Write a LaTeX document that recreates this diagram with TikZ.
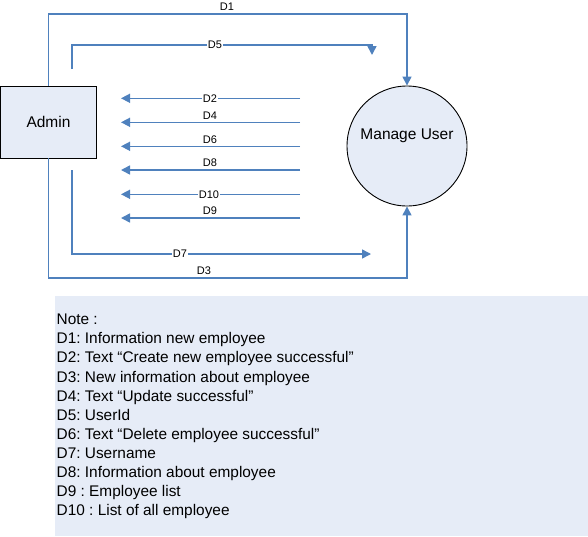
\documentclass[tikz,border=0pt]{standalone}
\usepackage{fontspec}
\setmainfont{Liberation Sans}
\usetikzlibrary{arrows.meta}
\definecolor{flow}{HTML}{4F81BD}
\definecolor{boxfill}{HTML}{E6ECF7}
\frenchspacing
\tikzset{
  flowline/.style={draw=flow, line width=1.5pt, -{Triangle[length=9pt,width=9pt]}},
  lbl/.style={fill=white, inner sep=1pt, font=\fontsize{11}{13}\selectfont},
  entity/.style={draw=black, fill=boxfill, line width=0.9pt, minimum width=96pt, minimum height=72pt, font=\fontsize{15.5}{18}\selectfont},
  process/.style={circle, draw=black, fill=boxfill, line width=0.9pt, minimum size=120pt, inner sep=0pt},
  proctext/.style={inner sep=0pt, font=\fontsize{15.5}{18}\selectfont},
  noteline/.style={anchor=base west, inner sep=0pt, font=\fontsize{15.4}{19}\selectfont}
}
\begin{document}
\begin{tikzpicture}[x=1pt,y=-1pt]
\useasboundingbox (0,0) rectangle (588,536);
% note box
\fill[boxfill] (55,296) rectangle (588,536);
% entities
\node[entity] (admin) at (48.5,122) {Admin};
\node[process] (mu) at (407,146) {};
\node[proctext] (mut) at (407,136) {Manage User};
% D1
\draw[flowline] (admin.north) -- (admin.north |- 0,14) -- (mu.north |- 0,14) -- (mu.north);
\node[lbl] (l1) at (227,7) {D1};
% D3
\draw[flowline] (admin.south) -- (admin.south |- 0,278) -- (mu.south |- 0,278) -- (mu.south);
\node[lbl] (l3) at (204,271) {D3};
% D5
\coordinate (d5s) at (72,69);
\coordinate (d5e) at (372,55);
\draw[flowline] (d5s) -- (d5s |- 0,45) -- (d5e |- 0,45) -- (d5e);
\node[lbl] (l5) at (215,45) {D5};
% D7
\coordinate (d7s) at (72,170);
\coordinate (d7e) at (371,254);
\draw[flowline] (d7s) -- (d7s |- d7e) -- (d7e);
\node[lbl] (l7) at (180,254) {D7};
% horizontal return flows
\foreach \n/\y/\ly/\lx in {2/98.3/98.3/210, 4/122.3/116/210, 6/146.3/139.5/210, 8/170/163/210, 10/194.3/194.3/209, 9/218/211/210}{
  \coordinate (s\n) at (300,\y);
  \coordinate (e\n) at (121,\y);
  \draw[flowline] (s\n) -- (e\n);
  \node[lbl] (l\n) at (\lx,\ly) {D\n};
}
% notes
\foreach \i/\t in {0/{Note :},
  1/{D1: Information new employee},
  2/{D2: Text “Create new employee successful”},
  3/{D3: New information about employee},
  4/{D4: Text “Update successful”},
  5/{D5: UserId},
  6/{D6: Text “Delete employee successful”},
  7/{D7: Username},
  8/{D8: Information about employee},
  9/{D9 : Employee list},
  10/{D10 : List of all employee}}{
  \node[noteline] (n\i) at (56.5,{324.8+19.07*\i}) {\t};
}
\end{tikzpicture}
\end{document}
